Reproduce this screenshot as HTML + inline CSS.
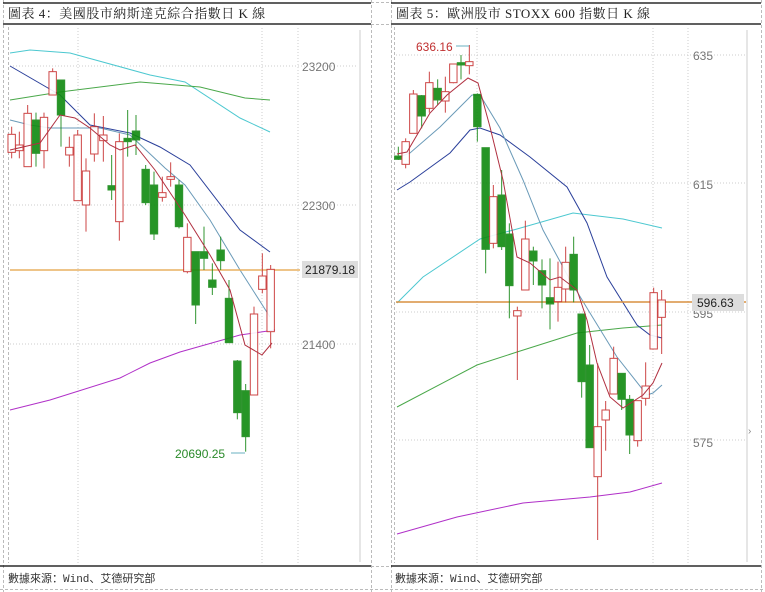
<!DOCTYPE html>
<html><head><meta charset="utf-8"><style>
html,body{margin:0;padding:0;background:#fff;width:765px;height:592px;overflow:hidden}
svg{display:block}
</style></head><body>
<svg id="s" width="765" height="592" xmlns="http://www.w3.org/2000/svg" font-family="Liberation Sans, sans-serif">
<g stroke="#bbb" stroke-dasharray="3,2" fill="none" stroke-width="1">
<line x1="3.5" y1="0" x2="3.5" y2="592"/><line x1="371.5" y1="0" x2="371.5" y2="592"/>
<line x1="391.5" y1="0" x2="391.5" y2="592"/><line x1="761.5" y1="0" x2="761.5" y2="592"/>
<line x1="0" y1="589.5" x2="765" y2="589.5"/><line x1="371" y1="2.5" x2="391" y2="2.5"/><line x1="371" y1="24.5" x2="391" y2="24.5"/><line x1="371" y1="566.5" x2="391" y2="566.5"/>
<line x1="8.5" y1="27" x2="8.5" y2="563"/><line x1="394.5" y1="27" x2="394.5" y2="563"/>
</g>
<g stroke="#000" stroke-width="1.2">
<line x1="3" y1="3" x2="371" y2="3"/><line x1="3" y1="24" x2="371" y2="24"/><line x1="0" y1="566" x2="371" y2="566"/>
<line x1="391" y1="3" x2="761" y2="3"/><line x1="391" y1="24" x2="761" y2="24"/><line x1="391" y1="566" x2="761" y2="566"/>
</g>
<g font-family="Liberation Serif, Noto Serif CJK SC, serif" font-size="13" fill="#222">
<text x="8" y="18" letter-spacing="0.5">圖表 4：美國股市納斯達克綜合指數日 K 線</text>
<text x="396" y="18" letter-spacing="0.5">圖表 5：歐洲股市 STOXX 600 指數日 K 線</text>
</g>
<g font-family="Liberation Mono, Noto Sans CJK SC, monospace" font-size="11" fill="#333">
<text x="8" y="582">數據來源：Wind、艾德研究部</text>
<text x="395" y="582">數據來源：Wind、艾德研究部</text>
</g>
<rect x="359" y="30" width="2" height="532" fill="#e6e6e6"/>
<rect x="746" y="30" width="2" height="532" fill="#e6e6e6"/>
<text x="748" y="434" font-size="10" fill="#888">›</text>
<g id="L"></g><g id="R"></g>
</svg>
<script>
function y1(z){return 30+z/3}
function grid(xs,ys,x0,x1,ya,yb){var s='';ys.forEach(function(y){s+='<line x1="'+x0+'" y1="'+y+'" x2="'+x1+'" y2="'+y+'" stroke="#ccc" stroke-dasharray="1,2"/>'});xs.forEach(function(x){s+='<line x1="'+x+'" y1="'+ya+'" x2="'+x+'" y2="'+yb+'" stroke="#ccc" stroke-dasharray="1,2"/>'});return s}
function pl(p,c,w){return '<polyline fill="none" stroke="'+c+'" stroke-width="'+(w||1)+'" points="'+p.map(function(a){return a.join(',')}).join(' ')+'"/>'}
function candles(arr,ox){var s='';arr.forEach(function(d){var x=ox+d[0]/3,bt=y1(d[1]),bb=y1(d[2]),wt=y1(d[3]),wb=y1(d[4]),g=d[5]=='g';
var col=g?'#1a8a1a':'#c83232';s+='<line x1="'+x+'" y1="'+wt+'" x2="'+x+'" y2="'+wb+'" stroke="'+col+'" stroke-width="1"/>';
s+='<rect x="'+(x-3.7)+'" y="'+bt+'" width="7.4" height="'+Math.max(1.5,bb-bt)+'" fill="'+(g?'#0f8a0f':'#fff')+'" stroke="'+col+'" stroke-width="1"/>'});return s}
var Lc=[[35,313,367,290,385,'r'],[58,345,362,305,385,'r'],[83,250,410,225,410,'r'],[108,270,370,248,410,'g'],[132,262,362,248,415,'r'],[158,125,195,115,195,'r'],[183,150,255,150,350,'g'],[208,352,375,320,410,'r'],[233,315,512,300,512,'r'],[258,423,525,385,605,'r'],[283,290,372,250,395,'r'],[310,315,332,258,395,'r'],[335,467,480,375,510,'g'],[358,335,575,310,632,'r'],[383,325,335,240,380,'g'],[408,303,330,255,375,'g'],[437,418,518,405,525,'g'],[462,465,612,425,630,'g'],[487,488,502,440,515,'r'],[512,440,448,397,470,'r'],[537,465,590,450,595,'g'],[562,622,725,580,730,'r'],[587,665,825,665,882,'g'],[612,665,685,590,720,'g'],[637,750,772,700,795,'g'],[662,660,692,620,720,'g'],[687,805,938,750,938,'g'],[712,993,1148,990,1168,'g'],[737,1082,1220,1062,1265,'g'],[762,852,1095,830,1095,'r'],[787,738,778,670,790,'r'],[812,718,905,705,955,'r']];
var L=grid([78,262,298],[66,205,344],10,358,28,565);
L+=pl([[10,53],[30,50],[70,53],[150,75],[185,82],[240,118],[270,132]],'#4cc8d0');
L+=pl([[10,100],[60,92],[140,82],[200,87],[245,98],[270,100]],'#4aa84a');
L+=pl([[10,66],[60,95],[90,125],[130,133],[160,147],[190,165],[240,230],[270,252]],'#2a3f9a');
L+=pl([[10,120],[30,125],[50,128],[100,128],[130,135],[165,168],[185,185],[210,220],[240,270],[270,317]],'#6a9ab8');
L+=pl([[10,410],[50,400],[120,378],[150,363],[180,352],[240,335],[275,330]],'#b030c8');
L+=pl([[10,270],[300,270]],'#e8b060',1.5);
L+='<g opacity="0.9">'+candles(Lc,0)+'</g>';
L+=pl([[10,150],[40,143],[60,115],[75,118],[90,128],[110,145],[120,150],[135,145],[155,170],[185,215],[210,255],[230,290],[245,345],[262,355],[272,343]],'#b03040');
L+='<text x="302" y="71" font-size="12" fill="#777">23200</text><text x="302" y="210" font-size="12" fill="#777">22300</text><text x="302" y="349" font-size="12" fill="#777">21400</text>';
L+='<rect x="302" y="261" width="56" height="17" fill="#ddd"/><text x="305" y="274" font-size="12" fill="#222">21879.18</text>';
L+='<text x="175" y="458" font-size="12" fill="#2a8a2a">20690.25</text>'+pl([[231,453],[245,453]],'#6ab0c0');
document.getElementById('L').innerHTML=L;
var Rc=[[25,378,388,350,390,'g'],[47,335,403,325,415,'r'],[70,192,310,180,310,'r'],[95,197,258,195,295,'g'],[118,158,235,125,248,'r'],[143,175,210,148,225,'g'],[166,185,213,140,248,'r'],[190,102,158,102,160,'r'],[213,98,105,75,148,'g'],[238,95,107,45,133,'r'],[262,193,290,190,335,'g'],[287,353,658,353,730,'g'],[310,500,640,465,655,'r'],[335,495,650,420,660,'g'],[358,612,767,580,865,'g'],[382,842,858,830,1050,'r'],[406,627,780,572,780,'r'],[430,663,693,650,765,'g'],[456,722,765,688,835,'g'],[480,803,822,685,898,'g'],[504,772,815,695,875,'r'],[527,697,777,650,817,'r'],[551,673,780,620,817,'g'],[575,852,1055,852,1103,'g'],[599,1005,1253,945,1253,'g'],[623,1190,1340,1000,1530,'r'],[647,1140,1170,1113,1262,'r'],[671,985,1092,950,1092,'r'],[695,1030,1108,1030,1140,'g'],[719,1108,1215,1095,1272,'g'],[743,1112,1232,1112,1250,'r'],[767,1068,1105,997,1127,'r'],[791,788,957,773,957,'r'],[815,810,862,780,972,'r']];
var R=grid([477,653,688],[55,183,312,440],396,746,28,565);
R+=pl([[397,303],[423,277],[480,239],[517,229],[573,213],[623,219],[662,228]],'#4cc8d0');
R+=pl([[397,407],[477,365],[517,352],[577,333],[623,328],[662,325]],'#4aa84a');
R+=pl([[397,190],[410,182],[450,153],[470,130],[480,128],[500,135],[530,157],[567,187],[587,223],[607,277],[637,325],[650,335],[662,338]],'#2a3f9a');
R+=pl([[397,158],[410,153],[440,127],[460,107],[472,95],[480,95],[500,128],[523,180],[543,230],[570,280],[590,313],[617,357],[647,395],[653,393],[662,385]],'#6a9ab8');
R+=pl([[397,534],[457,517],[523,503],[590,497],[630,492],[662,483]],'#b030c8');
R+=pl([[396,302],[746,302]],'#d89040',1.5);
R+='<g opacity="0.9">'+candles(Rc,390)+'</g>';
R+=pl([[397,154],[407,152],[430,113],[447,95],[468,78],[478,83],[490,127],[503,180],[517,257],[530,263],[550,280],[560,277],[577,290],[587,320],[597,363],[610,397],[623,408],[643,395],[653,383],[662,363]],'#b03040');
R+='<text x="693" y="60" font-size="12" fill="#777">635</text><text x="693" y="189" font-size="12" fill="#777">615</text><text x="693" y="318" font-size="12" fill="#777">595</text><text x="693" y="447" font-size="12" fill="#777">575</text>';
R+='<rect x="692" y="294" width="52" height="17" fill="#ddd"/><text x="697" y="307" font-size="12" fill="#222">596.63</text>';
R+='<text x="416" y="51" font-size="12" fill="#c03030">636.16</text>'+pl([[456,46],[469,46]],'#6ab0c0');
document.getElementById('R').innerHTML=R;
</script>
</body></html>
